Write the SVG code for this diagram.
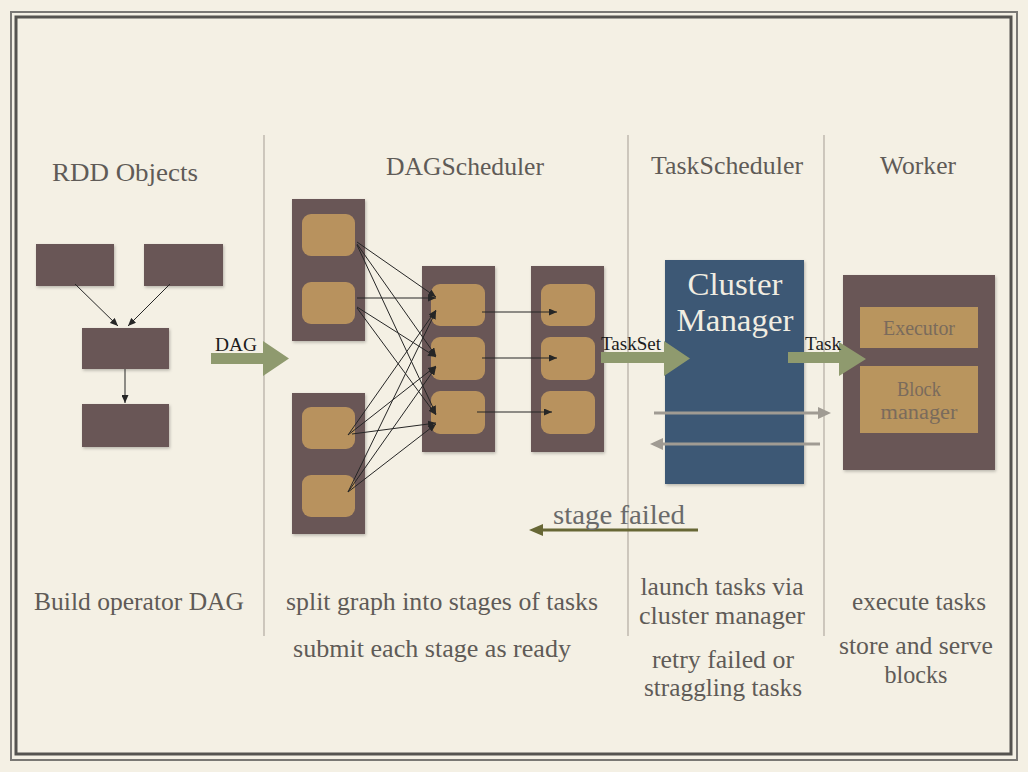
<svg xmlns="http://www.w3.org/2000/svg" width="1028" height="772" viewBox="0 0 1028 772">
<style>
.bg{fill:#f4f0e4}
.box{fill:#695656;filter:url(#sh)}
.task{fill:#b8925e}
.sq{fill:#b9955e}
.head{font-family:"Liberation Serif",serif;font-size:26px;fill:#5f5b57;text-anchor:middle}
.desc{font-family:"Liberation Serif",serif;font-size:25px;fill:#5f5b57;text-anchor:middle}
.lbl{font-family:"Liberation Serif",serif;font-size:19px;fill:#1c1c1c}
.cm{font-family:"Liberation Serif",serif;font-size:32px;fill:#f1ede2;text-anchor:middle}
.wk{font-family:"Liberation Serif",serif;font-size:20px;fill:#7a6b5c;text-anchor:middle}
.thin{stroke:#262626;stroke-width:1;fill:none;marker-end:url(#ah)}
.fat{fill:#8f9a6e}
.gray{stroke:#a09b93;stroke-width:3;fill:none}
.div{stroke:#a59d94;stroke-width:1}
</style>
<defs>
<filter id="sh" x="-10%" y="-10%" width="130%" height="130%">
<feDropShadow dx="1" dy="1.5" stdDeviation="1.5" flood-color="#000" flood-opacity="0.25"/>
</filter>
<marker id="ah" markerUnits="userSpaceOnUse" markerWidth="9" markerHeight="7" refX="8" refY="3.5" orient="auto">
<path d="M0,0 L8,3.5 L0,7 z" fill="#262626"/>
</marker>
</defs>
<rect class="bg" x="0" y="0" width="1028" height="772"/>
<rect x="11" y="12" width="1006" height="748" fill="none" stroke="#7a7874" stroke-width="2"/>
<rect x="16" y="17" width="995" height="737" fill="none" stroke="#55534f" stroke-width="3"/>
<g id="dividers">
<line class="div" x1="264" y1="135" x2="264" y2="636"/>
<line class="div" x1="628" y1="135" x2="628" y2="636"/>
<line class="div" x1="824" y1="135" x2="824" y2="636"/>
</g>
<g id="headings">
<text class="head" x="125" y="181" textLength="146" lengthAdjust="spacingAndGlyphs">RDD Objects</text>
<text class="head" x="465" y="175" textLength="158" lengthAdjust="spacingAndGlyphs">DAGScheduler</text>
<text class="head" x="727" y="174" textLength="152" lengthAdjust="spacingAndGlyphs">TaskScheduler</text>
<text class="head" x="918" y="174" textLength="76" lengthAdjust="spacingAndGlyphs">Worker</text>
</g>
<g id="rdd1"><rect class="box" x="36" y="244" width="78" height="42"/></g>
<g id="rdd2"><rect class="box" x="144" y="244" width="79" height="42"/></g>
<g id="rdd3"><rect class="box" x="82" y="328" width="87" height="41"/></g>
<g id="rdd4"><rect class="box" x="82" y="404" width="87" height="43"/></g>
<g id="stageA">
<rect class="box" x="292" y="199" width="73" height="142"/>
<rect class="task" x="302" y="214" width="53" height="42" rx="9"/>
<rect class="task" x="302" y="282" width="53" height="42" rx="9"/>
</g>
<g id="stageB">
<rect class="box" x="292" y="393" width="73" height="141"/>
<rect class="task" x="302" y="407" width="53" height="42" rx="9"/>
<rect class="task" x="302" y="475" width="53" height="42" rx="9"/>
</g>
<g id="stageC">
<rect class="box" x="422" y="266" width="73" height="186"/>
<rect class="task" x="431" y="284" width="54" height="42" rx="9"/>
<rect class="task" x="431" y="337" width="54" height="43" rx="9"/>
<rect class="task" x="431" y="391" width="54" height="43" rx="9"/>
</g>
<g id="stageD">
<rect class="box" x="531" y="266" width="73" height="186"/>
<rect class="task" x="541" y="284" width="54" height="42" rx="9"/>
<rect class="task" x="541" y="337" width="54" height="43" rx="9"/>
<rect class="task" x="541" y="391" width="54" height="43" rx="9"/>
</g>
<g id="cluster-manager">
<rect x="665" y="260" width="139" height="224" fill="#3d5874" filter="url(#sh)"/>
<text class="cm" x="735" y="295" textLength="95" lengthAdjust="spacingAndGlyphs">Cluster</text>
<text class="cm" x="735" y="331" textLength="117" lengthAdjust="spacingAndGlyphs">Manager</text>
</g>
<g id="worker">
<rect class="box" x="843" y="275" width="152" height="195"/>
<rect class="sq" x="860" y="307" width="118" height="41"/>
<text class="wk" x="919" y="335" textLength="72" lengthAdjust="spacingAndGlyphs">Executor</text>
<rect class="sq" x="860" y="366" width="118" height="67"/>
<text class="wk" x="919" y="396" textLength="44" lengthAdjust="spacingAndGlyphs">Block</text>
<text class="wk" x="919" y="419" textLength="77" lengthAdjust="spacingAndGlyphs">manager</text>
</g>
<g id="connectors">
<line class="thin" x1="75" y1="284" x2="118" y2="326"/>
<line class="thin" x1="170" y1="284" x2="128" y2="326"/>
<line class="thin" x1="125" y1="369" x2="125" y2="403"/>
<line class="thin" x1="357" y1="242" x2="436" y2="297"/>
<line class="thin" x1="357" y1="244" x2="436" y2="356"/>
<line class="thin" x1="357" y1="245" x2="436" y2="414"/>
<line class="thin" x1="357" y1="298" x2="436" y2="298"/>
<line class="thin" x1="357" y1="307" x2="436" y2="357"/>
<line class="thin" x1="357" y1="308" x2="436" y2="415"/>
<line class="thin" x1="348" y1="435" x2="436" y2="310"/>
<line class="thin" x1="348" y1="435" x2="436" y2="366"/>
<line class="thin" x1="352" y1="434" x2="436" y2="423"/>
<line class="thin" x1="348" y1="492" x2="436" y2="311"/>
<line class="thin" x1="348" y1="492" x2="436" y2="367"/>
<line class="thin" x1="348" y1="492" x2="436" y2="424"/>
<line class="thin" x1="482" y1="312" x2="557" y2="312"/>
<line class="thin" x1="482" y1="358" x2="557" y2="358"/>
<line class="thin" x1="477" y1="412" x2="552" y2="412"/>
<polygon class="fat" points="211,353 263,353 263,341 289,358.5 263,376 263,364 211,364"/>
<polygon class="fat" points="601,352 664,352 664,341 690,358.5 664,376 664,363 601,363"/>
<polygon class="fat" points="788,352 839,352 839,342 866,359 839,376 839,363 788,363"/>
<line class="gray" x1="654" y1="413" x2="820" y2="413"/>
<polygon points="818,407 831,413 818,419" fill="#a09b93"/>
<line class="gray" x1="820" y1="444" x2="662" y2="444"/>
<polygon points="663,438 650,444 663,450" fill="#a09b93"/>
<line x1="698" y1="530" x2="540" y2="530" stroke="#676735" stroke-width="3"/>
<polygon points="543,524 529,530 543,536" fill="#676735"/>
</g>
<g id="connector-labels">
<text class="lbl" x="215" y="351" textLength="42" lengthAdjust="spacingAndGlyphs">DAG</text>
<text class="lbl" x="601" y="350" textLength="60" lengthAdjust="spacingAndGlyphs">TaskSet</text>
<text class="lbl" x="805" y="350" textLength="36" lengthAdjust="spacingAndGlyphs">Task</text>
<text x="553" y="524" font-family="Liberation Serif, serif" font-size="28" fill="#6a6a6a" textLength="132" lengthAdjust="spacingAndGlyphs">stage failed</text>
</g>
<g id="descriptions">
<text class="desc" x="139" y="610" textLength="210" lengthAdjust="spacingAndGlyphs">Build operator DAG</text>
<text class="desc" x="442" y="610" textLength="312" lengthAdjust="spacingAndGlyphs">split graph into stages of  tasks</text>
<text class="desc" x="432" y="657" textLength="278" lengthAdjust="spacingAndGlyphs">submit each stage as ready</text>
<text class="desc" x="722" y="595" textLength="163" lengthAdjust="spacingAndGlyphs">launch tasks via</text>
<text class="desc" x="722" y="624" textLength="166" lengthAdjust="spacingAndGlyphs">cluster manager</text>
<text class="desc" x="723" y="668" textLength="142" lengthAdjust="spacingAndGlyphs">retry failed or</text>
<text class="desc" x="723" y="696" textLength="158" lengthAdjust="spacingAndGlyphs">straggling tasks</text>
<text class="desc" x="919" y="610" textLength="134" lengthAdjust="spacingAndGlyphs">execute tasks</text>
<text class="desc" x="916" y="654" textLength="154" lengthAdjust="spacingAndGlyphs">store and serve</text>
<text class="desc" x="916" y="683" textLength="63" lengthAdjust="spacingAndGlyphs">blocks</text>
</g>
</svg>
